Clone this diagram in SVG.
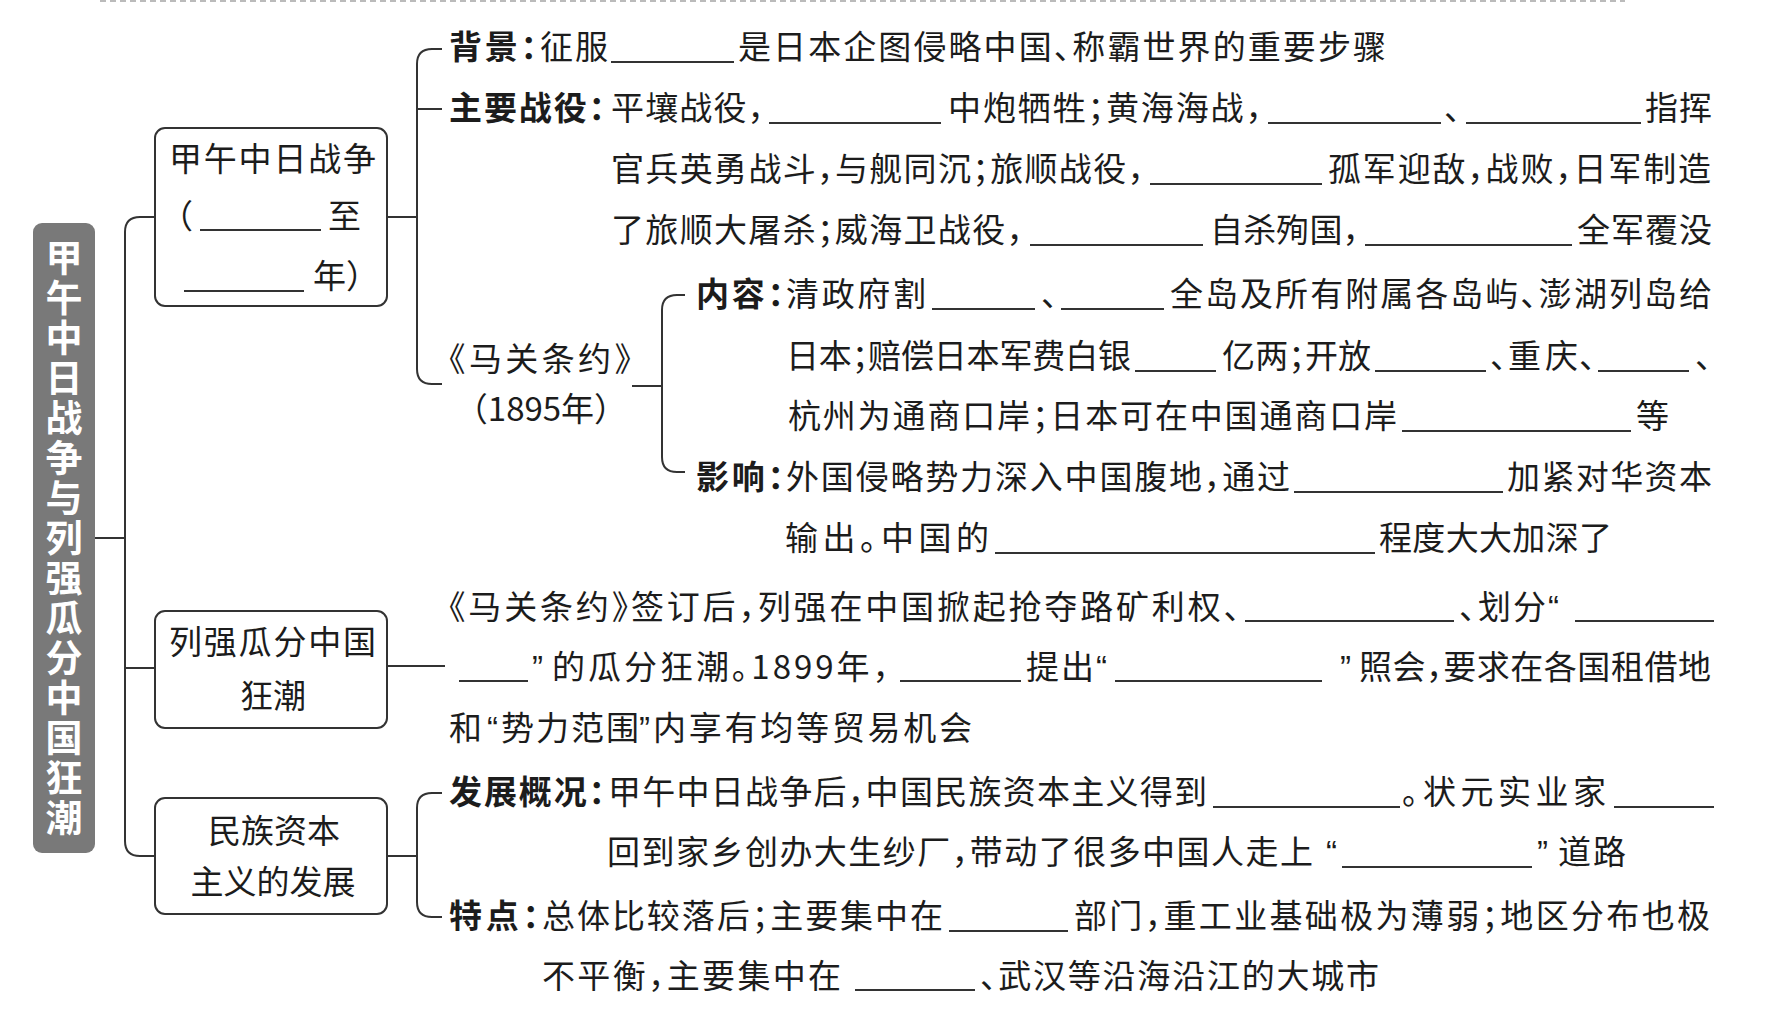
<svg xmlns="http://www.w3.org/2000/svg" width="1783" height="1020" viewBox="0 0 1783 1020">
<style>
.t{font-family:'Noto Sans CJK SC','Noto Sans',sans-serif;font-size:33px;fill:#1c1c1c;font-feature-settings:"halt"}
.b{font-weight:700}
.q{font-family:'Liberation Sans',sans-serif}
.c{fill:none;stroke:#333;stroke-width:2}
.bl{stroke:#333;stroke-width:1.8}
.box{fill:#fff;stroke:#333;stroke-width:2}
.title{font-family:'Noto Sans CJK SC',sans-serif;font-size:37px;font-weight:700;fill:#fff;writing-mode:vertical-rl;letter-spacing:3px}
.m{text-anchor:middle}
</style>
<rect width="1783" height="1020" fill="#fff"/>
<line x1="100" y1="1" x2="1625" y2="1" stroke="#bbb" stroke-width="2" stroke-dasharray="6 4"/>

<g id="connectors">
<path class="c" d="M95,538 H125"/>
<path class="c" d="M155,217 H140 Q125,217 125,232 V841 Q125,856 140,856 H155"/>
<path class="c" d="M125,668 H155"/>
<path class="c" d="M387,217 H417"/>
<path class="c" d="M442,49 H432 Q417,49 417,64 V369 Q417,384 432,384 H442"/>
<path class="c" d="M417,109 H442"/>
<path class="c" d="M632,386 H662"/>
<path class="c" d="M685,295 H677 Q662,295 662,310 V457 Q662,472 677,472 H685"/>
<path class="c" d="M387,666 H445"/>
<path class="c" d="M387,856 H417"/>
<path class="c" d="M442,793 H432 Q417,793 417,808 V902 Q417,917 432,917 H442"/>
</g>

<g id="title">
<rect x="33" y="223" width="62" height="630" rx="9" fill="#797979"/>
<text class="title" x="64" y="239">甲午中日战争与列强瓜分中国狂潮</text>
</g>

<g id="box-war">
<rect class="box" x="155" y="128" width="232" height="178" rx="10"/>
<text class="t" x="169" y="171" textLength="207" lengthAdjust="spacing">甲午中日战争</text>
<text class="t" x="193" y="228" text-anchor="end">（</text>
<line class="bl" x1="200" y1="230" x2="321" y2="230"/>
<text class="t" x="328" y="228">至</text>
<line class="bl" x1="184" y1="291" x2="304" y2="291"/>
<text class="t" x="313" y="288">年）</text>
</g>

<g id="box-partition">
<rect class="box" x="155" y="611" width="232" height="117" rx="10"/>
<text class="t" x="169" y="654" textLength="207" lengthAdjust="spacing">列强瓜分中国</text>
<text class="t m" x="273" y="708">狂潮</text>
</g>

<g id="box-capital">
<rect class="box" x="155" y="798" width="232" height="116" rx="10"/>
<text class="t m" x="274" y="843">民族资本</text>
<text class="t m" x="273" y="894">主义的发展</text>
</g>

<g id="node-background">
<text class="t b" x="449" y="59" textLength="88" lengthAdjust="spacing">背景：</text>
<text class="t" x="540" y="59" textLength="68" lengthAdjust="spacing">征服</text>
<line class="bl" x1="611" y1="62" x2="734" y2="62"/>
<text class="t" x="738" y="59" textLength="648" lengthAdjust="spacing">是日本企图侵略中国、称霸世界的重要步骤</text>
</g>

<g id="node-battles">
<text class="t b" x="449" y="120" textLength="156" lengthAdjust="spacing">主要战役：</text>
<text class="t" x="611" y="120" textLength="153" lengthAdjust="spacing">平壤战役，</text>
<line class="bl" x1="769" y1="123" x2="941" y2="123"/>
<text class="t" x="948" y="120" textLength="314" lengthAdjust="spacing">中炮牺牲；黄海海战，</text>
<line class="bl" x1="1268" y1="123" x2="1441" y2="123"/>
<text class="t" x="1444" y="120">、</text>
<line class="bl" x1="1466" y1="123" x2="1641" y2="123"/>
<text class="t" x="1645" y="120" textLength="67" lengthAdjust="spacing">指挥</text>
<text class="t" x="611" y="181" textLength="533" lengthAdjust="spacing">官兵英勇战斗，与舰同沉；旅顺战役，</text>
<line class="bl" x1="1150" y1="184" x2="1322" y2="184"/>
<text class="t" x="1328" y="181" textLength="383" lengthAdjust="spacing">孤军迎敌，战败，日军制造</text>
<text class="t" x="611" y="242" textLength="412" lengthAdjust="spacing">了旅顺大屠杀；威海卫战役，</text>
<line class="bl" x1="1030" y1="245" x2="1203" y2="245"/>
<text class="t" x="1210" y="242" textLength="149" lengthAdjust="spacing">自杀殉国，</text>
<line class="bl" x1="1365" y1="245" x2="1572" y2="245"/>
<text class="t" x="1577" y="242" textLength="135" lengthAdjust="spacing">全军覆没</text>
</g>

<g id="node-treaty">
<text class="t" x="449" y="371" textLength="182" lengthAdjust="spacing">《马关条约》</text>
<text class="t m" x="541" y="421">（1895年）</text>
</g>

<g id="node-content">
<text class="t b" x="696" y="306" textLength="88" lengthAdjust="spacing">内容：</text>
<text class="t" x="786" y="306" textLength="140" lengthAdjust="spacing">清政府割</text>
<line class="bl" x1="932" y1="309" x2="1035" y2="309"/>
<text class="t" x="1041" y="306">、</text>
<line class="bl" x1="1061" y1="309" x2="1164" y2="309"/>
<text class="t" x="1170" y="306" textLength="542" lengthAdjust="spacing">全岛及所有附属各岛屿、澎湖列岛给</text>
<text class="t" x="786" y="368" textLength="345" lengthAdjust="spacing">日本；赔偿日本军费白银</text>
<line class="bl" x1="1135" y1="371" x2="1216" y2="371"/>
<text class="t" x="1222" y="368" textLength="149" lengthAdjust="spacing">亿两；开放</text>
<line class="bl" x1="1375" y1="371" x2="1486" y2="371"/>
<text class="t" x="1490" y="368">、</text>
<text class="t" x="1508" y="368" textLength="70" lengthAdjust="spacing">重庆</text>
<text class="t" x="1579" y="368">、</text>
<line class="bl" x1="1598" y1="371" x2="1689" y2="371"/>
<text class="t" x="1695" y="368">、</text>
<text class="t" x="788" y="428" textLength="609" lengthAdjust="spacing">杭州为通商口岸；日本可在中国通商口岸</text>
<line class="bl" x1="1402" y1="431" x2="1631" y2="431"/>
<text class="t" x="1636" y="428">等</text>
</g>

<g id="node-impact">
<text class="t b" x="696" y="489" textLength="88" lengthAdjust="spacing">影响：</text>
<text class="t" x="786" y="489" textLength="504" lengthAdjust="spacing">外国侵略势力深入中国腹地，通过</text>
<line class="bl" x1="1294" y1="492" x2="1503" y2="492"/>
<text class="t" x="1507" y="489" textLength="205" lengthAdjust="spacing">加紧对华资本</text>
<text class="t" x="785" y="550" textLength="204" lengthAdjust="spacing">输出。中国的</text>
<line class="bl" x1="995" y1="553" x2="1375" y2="553"/>
<text class="t" x="1379" y="550" textLength="233" lengthAdjust="spacing">程度大大加深了</text>
</g>

<g id="node-partition-text">
<text class="t" x="449" y="619" textLength="791" lengthAdjust="spacing">《马关条约》签订后，列强在中国掀起抢夺路矿利权、</text>
<line class="bl" x1="1245" y1="621" x2="1454" y2="621"/>
<text class="t" x="1459" y="619">、</text>
<text class="t" x="1478" y="619" textLength="68" lengthAdjust="spacing">划分</text>
<text class="t q" x="1548" y="619">“</text>
<line class="bl" x1="1575" y1="621" x2="1714" y2="621"/>
<line class="bl" x1="459" y1="681" x2="528" y2="681"/>
<text class="t q" x="532" y="679">”</text>
<text class="t" x="552" y="679" textLength="337" lengthAdjust="spacing">的瓜分狂潮。1899年，</text>
<line class="bl" x1="900" y1="681" x2="1021" y2="681"/>
<text class="t" x="1026" y="679" textLength="68" lengthAdjust="spacing">提出</text>
<text class="t q" x="1096" y="679">“</text>
<line class="bl" x1="1115" y1="681" x2="1322" y2="681"/>
<text class="t q" x="1340" y="679">”</text>
<text class="t" x="1359" y="679" textLength="352" lengthAdjust="spacing">照会，要求在各国租借地</text>
<text class="t" x="449" y="740" textLength="35" lengthAdjust="spacing">和</text>
<text class="t q" x="487" y="740">“</text>
<text class="t" x="501" y="740" textLength="138" lengthAdjust="spacing">势力范围</text>
<text class="t q" x="639" y="740">”</text>
<text class="t" x="653" y="740" textLength="319" lengthAdjust="spacing">内享有均等贸易机会</text>
</g>

<g id="node-development">
<text class="t b" x="449" y="804" textLength="156" lengthAdjust="spacing">发展概况：</text>
<text class="t" x="608" y="804" textLength="599" lengthAdjust="spacing">甲午中日战争后，中国民族资本主义得到</text>
<line class="bl" x1="1213" y1="807" x2="1400" y2="807"/>
<text class="t" x="1402" y="804" textLength="204" lengthAdjust="spacing">。状元实业家</text>
<line class="bl" x1="1614" y1="807" x2="1714" y2="807"/>
<text class="t" x="607" y="864" textLength="706" lengthAdjust="spacing">回到家乡创办大生纱厂，带动了很多中国人走上</text>
<text class="t q" x="1326" y="864">“</text>
<line class="bl" x1="1342" y1="867" x2="1532" y2="867"/>
<text class="t q" x="1537" y="864">”</text>
<text class="t" x="1558" y="864" textLength="68" lengthAdjust="spacing">道路</text>
</g>

<g id="node-features">
<text class="t b" x="449" y="928" textLength="90" lengthAdjust="spacing">特点：</text>
<text class="t" x="542" y="928" textLength="401" lengthAdjust="spacing">总体比较落后；主要集中在</text>
<line class="bl" x1="949" y1="931" x2="1068" y2="931"/>
<text class="t" x="1074" y="928" textLength="636" lengthAdjust="spacing">部门，重工业基础极为薄弱；地区分布也极</text>
<text class="t" x="542" y="988" textLength="299" lengthAdjust="spacing">不平衡，主要集中在</text>
<line class="bl" x1="855" y1="990" x2="975" y2="990"/>
<text class="t" x="980" y="988" textLength="399" lengthAdjust="spacing">、武汉等沿海沿江的大城市</text>
</g>
</svg>
